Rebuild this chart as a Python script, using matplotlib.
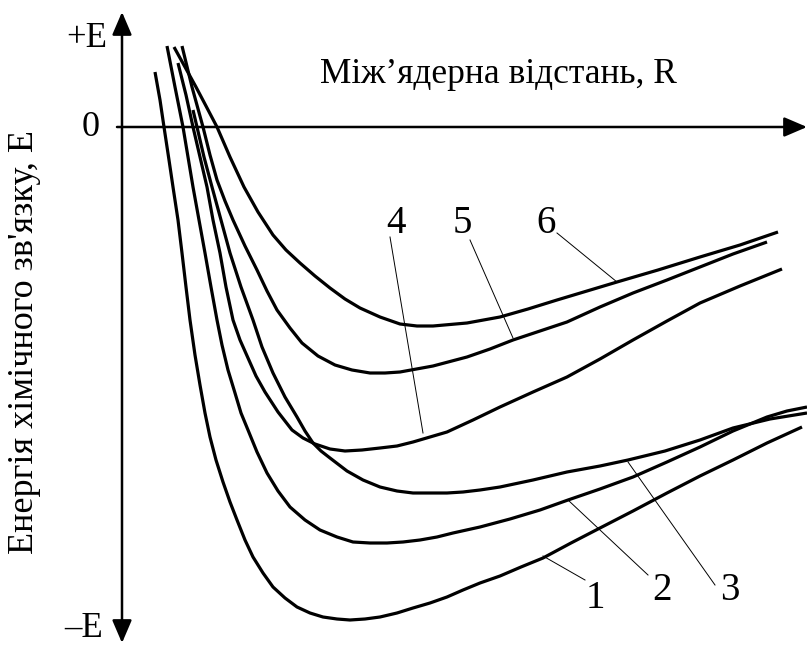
import numpy as np
import matplotlib as mpl
mpl.use('Agg')
import matplotlib.pyplot as plt

# ----------------------------------------------------------------------
# --- curves (R, E in arbitrary units, origin at the axes crossing)

r1 = [33, 38, 42, 47, 51, 56, 60, 64, 68, 73, 78, 83, 88, 94, 101, 108, 115, 123, 131, 141, 151, 163, 175,
      188, 201, 215, 228, 243, 258, 275, 291, 308, 325, 341, 358, 378, 399, 421, 449, 478, 511, 545, 578, 611, 645, 680]
e1 = [55, 27, 0, -33, -60, -93, -126, -160, -193, -228, -258, -286, -310, -333, -355, -375, -393, -413, -430, -446,
      -460, -471, -480, -486, -490, -492, -493, -492, -490, -486, -481, -476, -470, -463, -456, -449, -440, -431,
      -416, -401, -384, -366, -349, -333, -316, -300]

r2 = [45, 53, 61, 66, 71, 77, 83, 89, 95, 100, 106, 113, 119, 126, 135, 145, 156, 168, 183, 198, 215, 231, 248,
      265, 281, 298, 315, 331, 358, 388, 418, 446, 478, 511, 545, 578, 611, 645, 665, 685]
e2 = [81, 40, 0, -30, -60, -93, -126, -160, -193, -218, -243, -266, -286, -303, -325, -346, -364, -380, -393,
      -403, -410, -415, -416, -416, -415, -413, -410, -406, -400, -392, -383, -373, -362, -350, -335, -320, -304,
      -290, -284, -280]

r3 = [71, 75, 82, 90, 99, 108, 119, 131, 140, 151, 163, 175, 183, 191, 199, 208, 225, 241, 258, 275, 291, 308,
      325, 341, 358, 378, 411, 445, 478, 506, 543, 578, 611, 648, 685]
e3 = [17, 0, -30, -60, -93, -126, -160, -193, -220, -246, -270, -290, -304, -316, -324, -331, -344, -353, -360,
      -364, -366, -366, -366, -365, -363, -360, -353, -345, -339, -333, -324, -313, -301, -292, -286]

r4 = [56, 64, 71, 78, 85, 91, 98, 104, 111, 118, 126, 134, 143, 156, 170, 181, 193, 208, 223, 240, 258, 275,
      291, 308, 325, 351, 378, 411, 445, 478, 511, 545, 578, 618, 660]
e4 = [64, 32, 0, -30, -60, -93, -126, -160, -193, -213, -231, -249, -265, -285, -303, -311, -317, -322, -324,
      -323, -321, -319, -315, -310, -305, -293, -280, -265, -250, -232, -213, -194, -176, -159, -142]

r5 = [60, 70, 81, 88, 95, 103, 111, 123, 135, 145, 155, 168, 180, 196, 213, 230, 248, 263, 278, 311, 345, 368,
      391, 418, 445, 478, 511, 545, 578, 611, 645]
e5 = [81, 40, 0, -28, -53, -74, -93, -119, -143, -164, -183, -201, -216, -229, -238, -243, -246, -246, -245,
      -239, -230, -222, -213, -204, -195, -180, -166, -153, -140, -127, -115]

r6 = [52, 63, 74, 84, 95, 108, 122, 136, 151, 164, 178, 193, 208, 223, 238, 258, 278, 295, 311, 345, 378, 406,
      435, 465, 495, 536, 578, 618, 656]
e6 = [80, 60, 40, 21, 0, -30, -60, -85, -108, -123, -136, -149, -161, -172, -181, -190, -197, -199, -199, -196,
      -190, -182, -173, -164, -155, -143, -130, -118, -105]

curve_labels = ['1', '2', '3', '4', '5', '6']

# leader lines: point on the curve, start near the number, number position (baseline)
lead_on = [(421, -429), (446, -373), (506, -335), (301, -306), (391, -211), (495, -155)]
lead_off = [(463, -453), (526, -448), (593, -458), (268, -110), (348, -113), (435, -106)]
label_pos = [(473, -481), (540, -473), (608, -473), (274, -106), (340, -106), (424, -106)]

xlabel = 'Між’ядерна відстань, R'
ylabel = "Енергія хімічного зв'язку, E"

plt.rcParams['font.family'] = ['Liberation Serif', 'DejaVu Serif']

fig = plt.figure(figsize=(8.07, 6.45), dpi=100)
ax = fig.add_axes([0, 0, 1, 1])
ax.set_xlim(-122, 685)
ax.set_ylim(-518, 127)
ax.axis('off')

lw = 2.3
for r, e in zip([r1, r2, r3, r4, r5, r6], [e1, e2, e3, e4, e5, e6]):
    ax.plot(r, e, c='k', lw=lw, solid_capstyle='butt', solid_joinstyle='round')

for lab, p_on, p_off, p_txt in zip(curve_labels, lead_on, lead_off, label_pos):
    ax.plot([p_off[0], p_on[0]], [p_off[1], p_on[1]], c='k', lw=0.7)
    ax.text(p_txt[0], p_txt[1], lab, fontsize=28, ha='center', va='baseline')

# --- axes with arrows
ax.annotate('', xy=(0, 115), xytext=(0, -516),
            arrowprops=dict(arrowstyle='<|-|>,head_length=0.7,head_width=0.3', lw=1.8, color='k',
                            mutation_scale=20, shrinkA=0, shrinkB=0))
ax.annotate('', xy=(685, 0), xytext=(-5, 0),
            arrowprops=dict(arrowstyle='-|>,head_length=0.7,head_width=0.3', lw=1.8, color='k',
                            mutation_scale=20, shrinkA=0, shrinkB=0))

ax.text(-15, 80, '+E', fontsize=25, ha='right', va='baseline')
ax.text(-22, -9, '0', fontsize=26, ha='right', va='baseline')
ax.text(-19, -510, '–E', fontsize=25, ha='right', va='baseline')

ax.text(198, 44, xlabel, fontsize=25.5, ha='left', va='baseline')
ax.text(-97, -215, ylabel, fontsize=26, ha='center', va='center', rotation=90)

fig.savefig('out.png', dpi=100)
